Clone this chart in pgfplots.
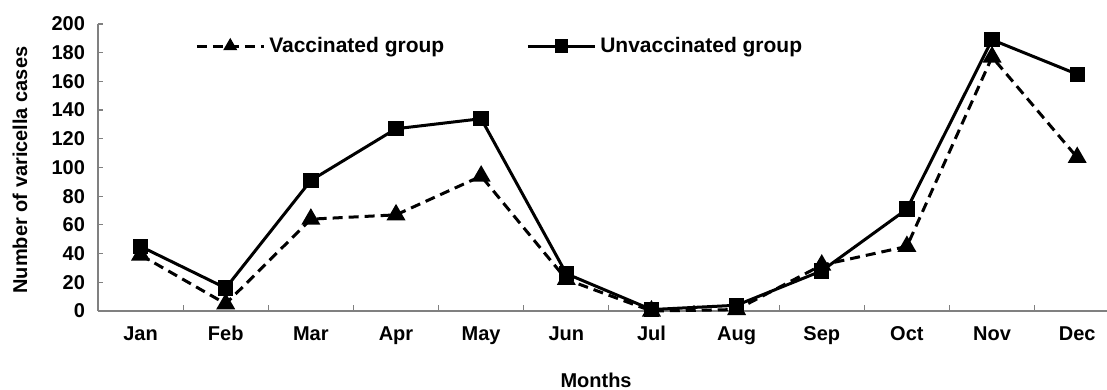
\documentclass[border=0pt]{standalone}
\usepackage{fontspec}
\setmainfont{Liberation Sans}
\usepackage{pgfplots}
\pgfplotsset{compat=1.18}
\usetikzlibrary{calc}
\begin{document}
\begin{tikzpicture}
\begin{axis}[
  scale only axis, width=504.5pt, height=143.5pt,
  xmin=-0.5, xmax=11.35, ymin=0, ymax=200,
  clip=false,
  axis x line*=bottom, axis y line*=left,
  axis line style={gray, line width=0.8pt, -},
  xtick={0,...,11},
  xticklabels={Jan,Feb,Mar,Apr,May,Jun,Jul,Aug,Sep,Oct,Nov,Dec},
  minor xtick={0.5,1.5,...,10.5},
  ytick={0,20,...,200},
  tick align=inside,
  major tick length=2.5pt, minor tick length=3pt,
  major x tick style={draw=none},
  tick style={gray, line width=0.6pt},
  /pgf/number format/assume math mode=true,
  ticklabel style={font=\fontsize{10}{12}\selectfont\bfseries},
  xticklabel style={text height=7.5pt, text depth=2pt, yshift=-3.5pt},
  yticklabel style={xshift=-3pt},
  xlabel={Months}, ylabel={Number of varicella cases},
  label style={font=\fontsize{10}{12}\selectfont\bfseries},
  xlabel style={at={(axis description cs:0.4936,-0.243)}, anchor=center},
  ylabel style={at={(axis description cs:-0.0773,0.491)}, anchor=center},
  legend columns=2,
  legend style={at={(axis description cs:0.096,0.923)}, anchor=west, draw=none, fill=none,
    inner sep=0pt, font=\fontsize{10.5}{12}\selectfont\bfseries,
    /tikz/every even column/.append style={column sep=39pt}},
  legend image code/.code={\draw[mark repeat=2,mark phase=2,mark size=2.6pt] plot coordinates {(0pt,0pt) (16.75pt,0pt) (33.5pt,0pt)};},
]
\addplot[black, line width=1.5pt, dash pattern=on 5pt off 3pt, mark=triangle*, mark size=4pt, mark options={solid}]
  coordinates {(0,39) (1,5) (2,64) (3,67) (4,94) (5,22) (6,0) (7,1) (8,32) (9,45) (10,177) (11,107)};
\addlegendentry{Vaccinated group}
\addplot[black, line width=1.5pt, mark=square*, mark size=3.1pt]
  coordinates {(0,45) (1,16) (2,91) (3,127) (4,134) (5,26) (6,1) (7,4) (8,28) (9,71) (10,189) (11,165)};
\addlegendentry{Unvaccinated group}
\coordinate (sw) at (rel axis cs:0,0);
\coordinate (ne) at (rel axis cs:1,1);
\end{axis}
\pgfresetboundingbox
\useasboundingbox ($(sw)+(-49pt,-39.5pt)$) rectangle ($(ne)+(0pt,12pt)$);
\end{tikzpicture}
\end{document}
